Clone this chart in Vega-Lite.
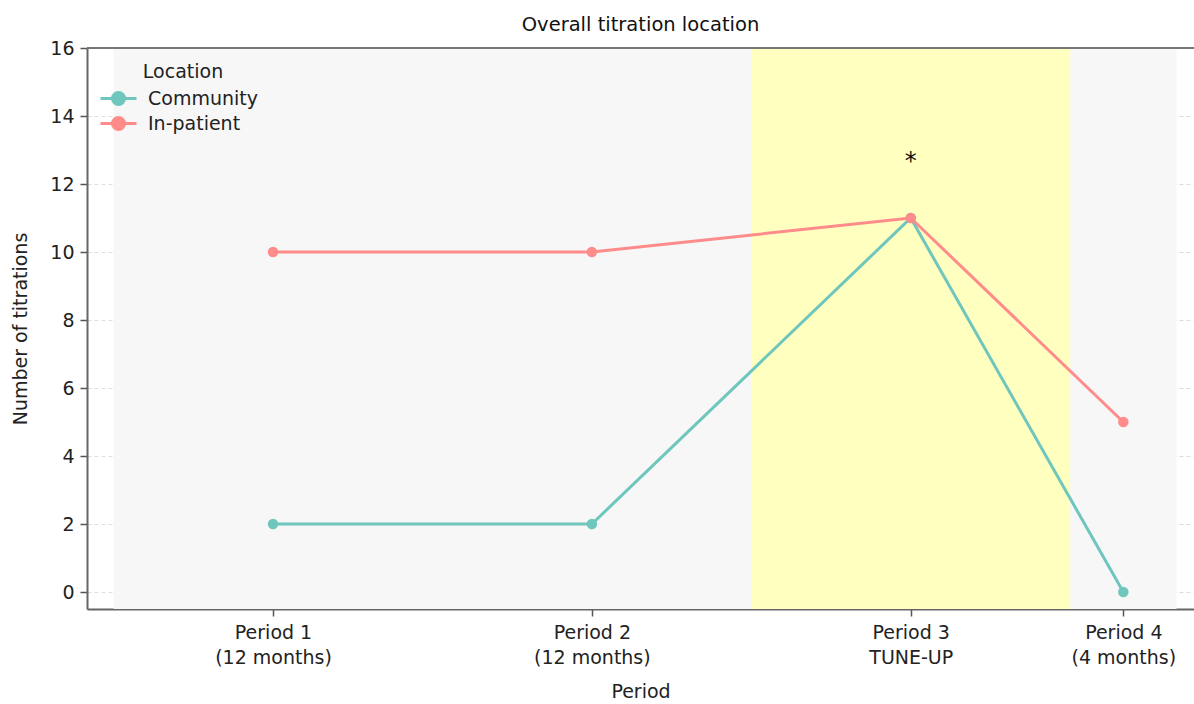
{
  "$schema": "https://vega.github.io/schema/vega-lite/v6.json",
  "width": 1107,
  "height": 561,
  "autosize": {"type": "none"},
  "padding": {"left": 87, "top": 48, "right": 0, "bottom": 95},
  "background": "white",
  "title": {"text": "Overall titration location", "fontSize": 19.5, "fontWeight": "normal", "font": "DejaVu Sans", "color": "#111", "offset": 4},
  "config": {
    "font": "DejaVu Sans",
    "view": {"stroke": null},
    "axis": {"labelFont": "DejaVu Sans", "titleFont": "DejaVu Sans", "labelFontSize": 19, "titleFontSize": 19, "labelColor": "#222", "titleColor": "#222", "titleFontWeight": "normal", "domainColor": "#666", "domainWidth": 2, "tickColor": "#555", "tickWidth": 1.5, "tickSize": 7}
  },
  "datasets": {
    "series": [
      {"month": 6, "count": 2, "Location": "Community"},
      {"month": 18, "count": 2, "Location": "Community"},
      {"month": 30, "count": 11, "Location": "Community"},
      {"month": 38, "count": 0, "Location": "Community"},
      {"month": 6, "count": 10, "Location": "In-patient"},
      {"month": 18, "count": 10, "Location": "In-patient"},
      {"month": 30, "count": 11, "Location": "In-patient"},
      {"month": 38, "count": 5, "Location": "In-patient"}
    ]
  },
  "layer": [
    {
      "data": {"values": [{"month": 0, "month_end": 40}]},
      "mark": {"type": "rect", "color": "#f7f7f7"},
      "encoding": {
        "x": {"field": "month", "type": "quantitative"},
        "x2": {"field": "month_end"}
      }
    },
    {
      "data": {"values": [{"month": 24, "month_end": 36}]},
      "mark": {"type": "rect", "color": "#ffffc0"},
      "encoding": {
        "x": {"field": "month", "type": "quantitative"},
        "x2": {"field": "month_end"}
      }
    },
    {
      "data": {"values": [{"count": 16}]},
      "mark": {"type": "rule", "color": "#777", "strokeWidth": 2},
      "encoding": {
        "y": {"field": "count", "type": "quantitative"}
      }
    },
    {
      "data": {"name": "series"},
      "mark": {"type": "line", "strokeWidth": 3},
      "encoding": {
        "x": {
          "field": "month", "type": "quantitative", "title": "Period",
          "scale": {"domain": [-1, 40.66], "nice": false, "zero": false},
          "axis": {"values": [6, 18, 30, 38], "grid": false, "labelPadding": 7, "titlePadding": 15,
            "labelExpr": "datum.value == 6 ? ['Period 1', '(12 months)'] : datum.value == 18 ? ['Period 2', '(12 months)'] : datum.value == 30 ? ['Period 3', 'TUNE-UP'] : ['Period 4', '(4 months)']",
            "labelLineHeight": 25}
        },
        "y": {
          "field": "count", "type": "quantitative", "title": "Number of titrations",
          "scale": {"domain": [-0.5, 16], "nice": false, "zero": false},
          "axis": {"values": [0, 2, 4, 6, 8, 10, 12, 14, 16], "grid": true, "gridColor": "#dddddd", "gridDash": [4, 3], "gridWidth": 1, "labelPadding": 6, "titlePadding": 19}
        },
        "color": {
          "field": "Location", "type": "nominal",
          "scale": {"domain": ["Community", "In-patient"], "range": ["#6ec6bd", "#ff8b8b"]},
          "legend": {
            "orient": "none", "legendX": 21, "legendY": 15,
            "title": "Location", "titleFontSize": 19, "titleFontWeight": "normal", "titleColor": "#222", "titleFont": "DejaVu Sans",
            "labelFontSize": 19, "labelColor": "#222", "labelFont": "DejaVu Sans",
            "symbolType": "M-2,0H2M-0.67,0A0.67,0.67 0 1,1 0.67,0A0.67,0.67 0 1,1 -0.67,0Z",
            "symbolSize": 324, "symbolStrokeWidth": 3,
            "rowPadding": 0, "titlePadding": 6, "labelOffset": 19, "titleAnchor": "middle"
          }
        }
      }
    },
    {
      "data": {"name": "series"},
      "mark": {"type": "point", "filled": true, "size": 110, "opacity": 1},
      "encoding": {
        "x": {"field": "month", "type": "quantitative"},
        "y": {"field": "count", "type": "quantitative"},
        "color": {"field": "Location", "type": "nominal", "legend": null}
      }
    },
    {
      "data": {"values": [{"month": 30, "count": 12.65, "label": "*"}]},
      "mark": {"type": "text", "fontSize": 24, "baseline": "middle", "color": "#111"},
      "encoding": {
        "x": {"field": "month", "type": "quantitative"},
        "y": {"field": "count", "type": "quantitative"},
        "text": {"field": "label"}
      }
    }
  ]
}
